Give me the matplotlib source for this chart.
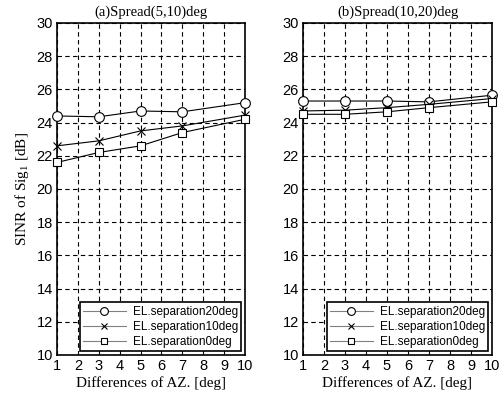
import numpy as np
import matplotlib
matplotlib.use("Agg")
from matplotlib import pyplot as plt

# data
az = [1, 3, 5, 7, 10]
labels = ["EL.separation20deg", "EL.separation10deg", "EL.separation0deg"]
markers = ["o", "x", "s"]

a_el20 = [24.4, 24.35, 24.7, 24.65, 25.2]
a_el10 = [22.6, 22.9, 23.5, 23.8, 24.45]
a_el0 = [21.6, 22.2, 22.6, 23.4, 24.2]

b_el20 = [25.3, 25.3, 25.3, 25.25, 25.65]
b_el10 = [24.7, 24.75, 24.9, 25.1, 25.45]
b_el0 = [24.5, 24.5, 24.65, 24.9, 25.25]

titles = ["(a)Spread(5,10)deg", "(b)Spread(10,20)deg"]
xticks = list(range(1, 11))
yticks = list(range(10, 31, 2))

serif = "Liberation Serif"
sans = "Liberation Sans"


def main():
    fig = plt.figure(figsize=(5.04, 3.97), dpi=100)
    W, H = 504.0, 397.0
    ax_a = fig.add_axes([57 / W, 1 - 355 / H, 188 / W, 332 / H])
    ax_b = fig.add_axes([303 / W, 1 - 355 / H, 189 / W, 332 / H])

    for ax, title, series in [(ax_a, titles[0], [a_el20, a_el10, a_el0]),
                              (ax_b, titles[1], [b_el20, b_el10, b_el0])]:
        for vals, m, lab in zip(series, markers, labels):
            ax.plot(az, vals, color="black", lw=0.8, marker=m, ms=7 if m == "o" else 6,
                    mfc="white" if m != "x" else "black", mec="black", mew=0.8,
                    label=lab, clip_on=False, zorder=3)
        ax.set_xlim(1, 10)
        ax.set_ylim(10, 30)
        ax.set_xticks(xticks)
        ax.set_yticks(yticks)
        ax.grid(True, color="black", ls=(0, (4, 3)), lw=0.8)
        ax.tick_params(direction="in", length=0, labelsize=10.5, pad=3)
        for t in ax.get_xticklabels() + ax.get_yticklabels():
            t.set_fontfamily(sans)
        for s in ax.spines.values():
            s.set_linewidth(1.2)
        ax.set_title(title, fontsize=10.5, family=serif, pad=5)
        ax.set_xlabel("Differences of AZ. [deg]", fontsize=11, family=serif, labelpad=2)
        leg = ax.legend(loc="lower right", prop={"family": sans, "size": 8.5},
                        fancybox=False, framealpha=1, edgecolor="black",
                        borderaxespad=0.3, handlelength=3.6, labelspacing=0.25,
                        borderpad=0.3, handletextpad=0.6, markerscale=0.8)
        leg.get_frame().set_linewidth(1.2)
        for ln in leg.get_lines():
            ln.set_color("gray")
            ln.set_markeredgecolor("black")

    ax_a.set_ylabel("SINR of Sig$_\\mathregular{1}$ [dB]", fontsize=11, family=serif, labelpad=4)

    fig.savefig("out.png", dpi=100)


if __name__ == "__main__":
    main()
